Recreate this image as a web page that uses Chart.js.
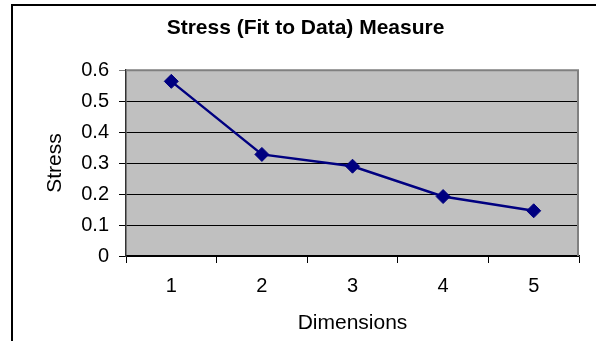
<!DOCTYPE html>
<html>
<head>
<meta charset="utf-8">
<script src="https://cdn.jsdelivr.net/npm/chart.js@4/dist/chart.umd.min.js"></script>
<style>
  html, body { margin: 0; padding: 0; background: #fff; }
  #wrap { width: 596px; height: 341px; position: relative; }
</style>
</head>
<body>
<div id="wrap"><canvas id="c" width="596" height="341"></canvas></div>
<script>
// Stress per number of dimensions
const dimensions = ['1', '2', '3', '4', '5'];
const stress = [0.564, 0.328, 0.290, 0.192, 0.146];
const yTicks = [0, 0.1, 0.2, 0.3, 0.4, 0.5, 0.6];

const FONT = 'Liberation Sans, Arial, sans-serif';

// Frame around the chart and the grey plot background
const framePlugin = {
  id: 'frame',
  beforeDraw(chart) {
    const { ctx, chartArea: a } = chart;
    ctx.save();
    ctx.fillStyle = '#000';
    ctx.fillRect(11, 4, chart.width - 11, 2);
    ctx.fillRect(11, 4, 2, chart.height - 4);
    ctx.fillStyle = '#C0C0C0';
    ctx.fillRect(a.left, a.top, a.right - a.left, a.bottom - a.top);
    ctx.restore();
  },
  beforeDatasetsDraw(chart) {
    const { ctx, chartArea: a } = chart;
    ctx.save();
    ctx.strokeStyle = '#808080';
    ctx.lineWidth = 2;
    ctx.beginPath();
    ctx.moveTo(a.left, a.top);
    ctx.lineTo(a.right - 1, a.top);
    ctx.lineTo(a.right - 1, a.bottom);
    ctx.stroke();
    ctx.restore();
  }
};

new Chart(document.getElementById('c'), {
  type: 'line',
  data: {
    labels: dimensions,
    datasets: [{
      data: stress,
      borderColor: '#000080',
      borderWidth: 2.5,
      backgroundColor: '#000080',
      pointStyle: 'rectRot',
      pointRadius: 7,
      pointBorderWidth: 1,
      pointBackgroundColor: '#000080',
      pointBorderColor: '#000080',
      tension: 0
    }]
  },
  options: {
    responsive: false,
    animation: false,
    layout: { padding: { left: 32, right: 17, top: 0, bottom: 0 } },
    plugins: {
      legend: { display: false },
      tooltip: { enabled: false },
      title: {
        display: true,
        text: 'Stress (Fit to Data) Measure',
        color: '#000',
        font: { family: FONT, size: 21, weight: 'bold', lineHeight: 1.2 },
        padding: { top: 16, bottom: 29 }
      }
    },
    scales: {
      x: {
        type: 'category',
        offset: true,
        grid: {
          offset: true,
          drawOnChartArea: false,
          drawTicks: true,
          tickLength: 7,
          color: '#000',
          lineWidth: 1
        },
        border: { display: true, color: '#000', width: 1.5 },
        ticks: {
          color: '#000',
          padding: 11,
          maxRotation: 0,
          font: { family: FONT, size: 20 }
        },
        title: {
          display: true,
          text: 'Dimensions',
          color: '#000',
          font: { family: FONT, size: 21, lineHeight: 1.2 },
          padding: { top: 0, bottom: 5 }
        },
        afterFit(scale) { scale.height = 85; }
      },
      y: {
        min: 0,
        max: 0.6,
        afterBuildTicks(scale) { scale.ticks = yTicks.map(v => ({ value: v })); },
        grid: {
          drawTicks: true,
          tickLength: 7,
          lineWidth: 1,
          color(ctx) { return ctx.tick && ctx.tick.value === 0.6 ? '#808080' : '#000'; }
        },
        border: { display: true, color: '#333', width: 1.5 },
        ticks: {
          color: '#000',
          padding: 10,
          font: { family: FONT, size: 20 },
          callback(v) { return String(Math.round(v * 10) / 10); }
        },
        title: {
          display: true,
          text: 'Stress',
          color: '#000',
          font: { family: FONT, size: 21, lineHeight: 1.2 },
          padding: { top: 11, bottom: 0 }
        },
        afterFit(scale) { scale.width = 94; }
      }
    }
  },
  plugins: [framePlugin]
});
</script>
</body>
</html>
